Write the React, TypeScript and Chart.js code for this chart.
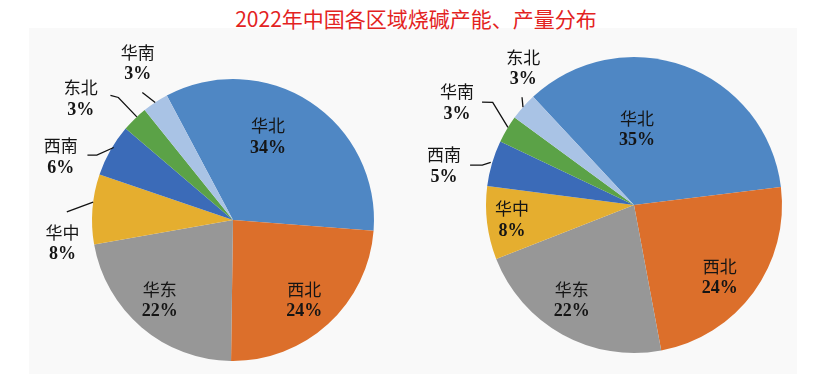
import { useEffect, useRef } from "react";
import { Chart, registerables } from "chart.js";

Chart.register(...registerables);

const TITLE = "2022年中国各区域烧碱产能、产量分布";

// Left pie: capacity share (%)
const capacityRegions = ["华北", "西北", "华东", "华中", "西南", "东北", "华南"];
const capacityShares = [34, 24, 22, 8, 6, 3, 3];

// Right pie: output share (%)
const outputRegions = ["华北", "西北", "华东", "华中", "西南", "华南", "东北"];
const outputShares = [35, 24, 22, 8, 5, 3, 3];

const sliceColors = ["#4f87c4", "#dc6f2b", "#979797", "#e5ae2f", "#3b6bb8", "#5ba247", "#a9c3e5"];

type LabelPos = { frac: number; dAng: number };
type Leader = Array<[number, number]>;

// label placement (radius fraction, angle offset in degrees from slice mid)
const leftLabelPos: LabelPos[] = [
  { frac: 0.64, dAng: -10.3 },
  { frac: 0.76, dAng: 0.8 },
  { frac: 0.77, dAng: 2 },
  { frac: 1.22, dAng: -12.1 },
  { frac: 1.3, dAng: -9.5 },
  { frac: 1.38, dAng: -7.3 },
  { frac: 1.3, dAng: 2.1 },
];
const leftLeaders: (Leader | null)[] = [
  null,
  null,
  null,
  [[1.0, 2.9], [1.18, -1.6]],
  [[0.99, 1.7], [1.07, -4.1], [1.13, -5.6]],
  [[1.0, 1.2], [1.19, 1.1], [1.24, -0.3]],
  [[1.0, -0.1], [1.11, -2.0]],
];

const rightLabelPos: LabelPos[] = [
  { frac: 0.51, dAng: -17.7 },
  { frac: 0.76, dAng: 4.1 },
  { frac: 0.77, dAng: 4.1 },
  { frac: 0.83, dAng: 0 },
  { frac: 1.31, dAng: -4.8 },
  { frac: 1.38, dAng: -0.8 },
  { frac: 1.19, dAng: 9.4 },
];
const rightLeaders: (Leader | null)[] = [
  null,
  null,
  null,
  null,
  [[1.01, 0.2], [1.06, -1.7], [1.14, -2.7]],
  [[1.0, 0.8], [1.18, 5.2], [1.24, 3.3]],
  [[1.0, -0.2], [1.05, 2.3]],
];

function makeLabelPlugin(labels: string[], values: number[], pos: LabelPos[], leaders: (Leader | null)[]) {
  return {
    id: "sliceLabels",
    afterDatasetsDraw(chart: any) {
      const ctx = chart.ctx as CanvasRenderingContext2D;
      const meta = chart.getDatasetMeta(0);
      ctx.save();
      meta.data.forEach((arc: any, i: number) => {
        const p = arc.getProps(["x", "y", "startAngle", "endAngle", "outerRadius"], true);
        const mid = (p.startAngle + p.endAngle) / 2;
        const polar = (frac: number, dDeg: number) => {
          const a = mid + (dDeg * Math.PI) / 180;
          return [p.x + Math.cos(a) * frac * p.outerRadius, p.y + Math.sin(a) * frac * p.outerRadius];
        };
        const ld = leaders[i];
        if (ld) {
          ctx.beginPath();
          ctx.strokeStyle = "#111";
          ctx.lineWidth = 1.3;
          ld.forEach(([f, d], k) => {
            const [px, py] = polar(f, d);
            if (k === 0) ctx.moveTo(px, py);
            else ctx.lineTo(px, py);
          });
          ctx.stroke();
        }
        const [lx, ly] = polar(pos[i].frac, pos[i].dAng);
        ctx.fillStyle = "#151515";
        ctx.textAlign = "center";
        ctx.textBaseline = "middle";
        ctx.font = "17px 'Noto Sans CJK SC'";
        ctx.fillText(labels[i], lx, ly - 11);
        ctx.font = "bold 18px 'Liberation Serif'";
        ctx.fillText(values[i] + "%", lx, ly + 11);
      });
      ctx.restore();
    },
  };
}

function PieCanvas(props: {
  labels: string[];
  values: number[];
  rotation: number;
  radius: number;
  padding: { left: number; right: number; top: number; bottom: number };
  pos: LabelPos[];
  leaders: (Leader | null)[];
  style: React.CSSProperties;
}) {
  const ref = useRef<HTMLCanvasElement | null>(null);
  useEffect(() => {
    if (!ref.current) return;
    const chart = new Chart(ref.current, {
      type: "pie",
      data: {
        labels: props.labels,
        datasets: [
          {
            data: props.values,
            backgroundColor: sliceColors,
            borderWidth: 0,
          },
        ],
      },
      options: {
        animation: false,
        responsive: false,
        rotation: props.rotation,
        radius: props.radius,
        layout: { padding: props.padding },
        plugins: { legend: { display: false }, tooltip: { enabled: false }, title: { display: false } },
      },
      plugins: [makeLabelPlugin(props.labels, props.values, props.pos, props.leaders)],
    } as any);
    return () => chart.destroy();
  }, []);
  const w = props.style.width as number;
  const h = props.style.height as number;
  return <canvas ref={ref} width={w} height={h} style={{ ...props.style, position: "absolute" }} />;
}

export default function App() {
  return (
    <div style={{ position: "absolute", left: 0, top: 0, width: 837, height: 391, background: "#ffffff", overflow: "hidden" }}>
      <div style={{ position: "absolute", left: 29, top: 28, width: 768, height: 346, background: "#f9f9f9" }} />
      <div
        style={{
          position: "absolute",
          left: 0,
          width: 832,
          top: 4,
          textAlign: "center",
          color: "#e3231f",
          fontFamily: "'Noto Sans CJK SC', sans-serif",
          fontSize: 21,
          lineHeight: "28px",
        }}
      >
        {TITLE}
      </div>
      <PieCanvas
        labels={capacityRegions}
        values={capacityShares}
        rotation={-28}
        radius={141}
        padding={{ left: 48, right: 0, top: 49, bottom: 0 }}
        pos={leftLabelPos}
        leaders={leftLeaders}
        style={{ left: 0, top: 0, width: 418, height: 391 }}
      />
      <PieCanvas
        labels={outputRegions}
        values={outputShares}
        rotation={-43}
        radius={148}
        padding={{ left: 13, right: 0, top: 19, bottom: 0 }}
        pos={rightLabelPos}
        leaders={rightLeaders}
        style={{ left: 418, top: 0, width: 419, height: 391 }}
      />
    </div>
  );
}
